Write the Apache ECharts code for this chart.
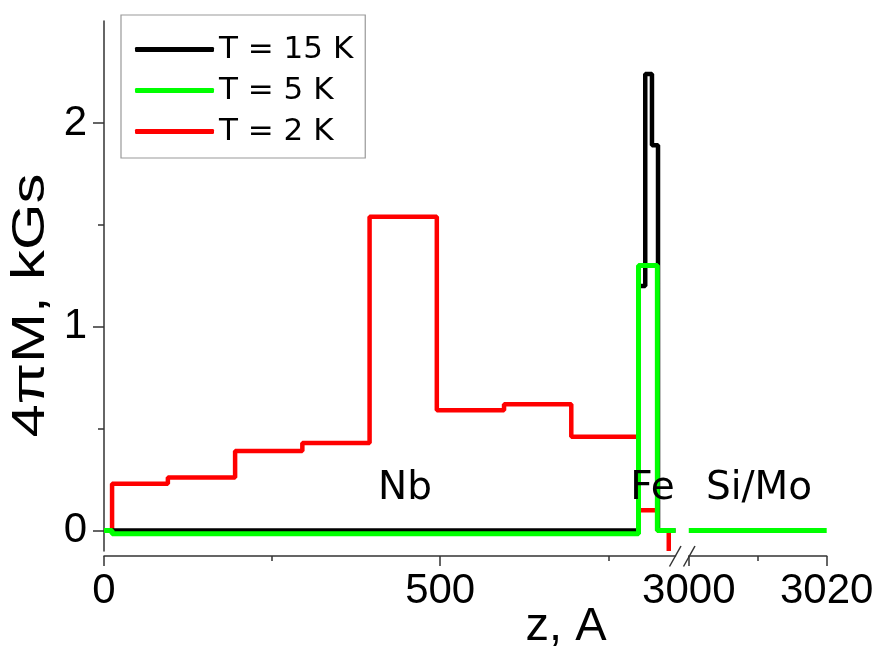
<!DOCTYPE html>
<html>
<head>
<meta charset="utf-8">
<script src="https://cdn.jsdelivr.net/npm/echarts@6/dist/echarts.min.js"></script>
<style>html,body{margin:0;padding:0;background:#fff;}#chart{width:877px;height:649px;}</style>
</head>
<body>
<div id="chart"></div>
<script>
// ---- data (z in Å, 4πM in kGs), step 'end' corner points ----
const seriesNames = ['T = 15 K', 'T = 5 K', 'T = 2 K'];
const blackX = [0, 795, 805, 815, 824, 850];
const blackY = [0, 1.20, 2.24, 1.89, 0, 0];
const greenX = [0, 12, 795, 823, 850];
const greenY = [0, -0.015, 1.30, 0, 0];
const greenRightX = [3000, 3020];
const greenRightY = [0, 0];
const redX = [0, 12, 95, 195, 295, 395, 495, 595, 695, 795, 823, 840];
const redY = [0, 0.23, 0.26, 0.39, 0.43, 1.54, 0.59, 0.62, 0.46, 0.10, 0, -0.1];
const yMajorTicks = [0, 1, 2];
const yMinorTicks = [0.5, 1.5];
const xLeftMajor = [0, 500];
const xLeftMinor = [250, 750];
const xRightMajor = [3000, 3020];
const xRightMinor = [3010];
const layerLabels = ['Nb', 'Fe', 'Si/Mo'];

const zip = (xs, ys) => xs.map((x, i) => [x, ys[i]]);

const chart = echarts.init(document.getElementById('chart'), null, {renderer: 'canvas'});
const axisColor = '#333';
const tickFont = {fontFamily: 'Liberation Sans', fontSize: 42, color: '#000'};
const gridTop = 21, gridBottom = 98;
const plain = v => String(Math.round(v));

function xAxisDef(grid, min, max, ticks, len, labels) {
  return {
    type: 'value', gridIndex: grid, min: min, max: max, position: 'bottom', offset: 5,
    axisLine: {show: labels, onZero: false, lineStyle: {color: axisColor, width: 1.5}},
    axisTick: {show: true, customValues: ticks, length: len, inside: false, lineStyle: {color: axisColor, width: 1.5}},
    axisLabel: labels ? Object.assign({show: true, customValues: ticks, margin: 14, formatter: plain}, tickFont) : {show: false},
    splitLine: {show: false}
  };
}
function yAxisDef(grid, ticks, len, labels, show) {
  return {
    type: 'value', gridIndex: grid, min: -0.1, max: 2.5, position: 'left', show: show,
    axisLine: {show: labels, onZero: false, lineStyle: {color: axisColor, width: 1.5}},
    axisTick: {show: true, customValues: ticks, length: len, lineStyle: {color: axisColor, width: 1.5}},
    axisLabel: labels ? Object.assign({show: true, customValues: ticks, margin: 17, formatter: plain}, tickFont) : {show: false},
    splitLine: {show: false}
  };
}

const option = {
  animation: false,
  backgroundColor: '#fff',
  grid: [
    {left: 104, right: 201.5, top: gridTop, bottom: gridBottom},
    {left: 688.7, right: 50.3, top: gridTop, bottom: gridBottom}
  ],
  xAxis: [
    xAxisDef(0, 0, 850, xLeftMajor, 10, true),
    xAxisDef(0, 0, 850, xLeftMinor, 5, false),
    xAxisDef(1, 2999.99, 3020, xRightMajor, 10, true),
    xAxisDef(1, 2999.99, 3020, xRightMinor, 5, false)
  ],
  yAxis: [
    yAxisDef(0, yMajorTicks, 11, true, true),
    yAxisDef(0, yMinorTicks, 6, false, true),
    yAxisDef(1, yMajorTicks, 0, false, false)
  ],
  legend: {
    orient: 'vertical', left: 121, top: 15,
    padding: [19, 12, 11, 14], itemGap: 10,
    itemWidth: 79, itemHeight: 5, icon: 'roundRect',
    borderColor: '#999', borderWidth: 1.2, backgroundColor: '#fff',
    textStyle: {fontFamily: 'DejaVu Sans', fontSize: 31, color: '#000'},
    data: seriesNames
  },
  series: [
    {name: seriesNames[2], type: 'line', step: 'end', xAxisIndex: 0, yAxisIndex: 0, data: zip(redX, redY),
     symbol: 'none', z: 2, lineStyle: {color: '#ff0000', width: 4.5}, itemStyle: {color: '#ff0000'}},
    {name: seriesNames[0], type: 'line', step: 'end', xAxisIndex: 0, yAxisIndex: 0, data: zip(blackX, blackY),
     symbol: 'none', z: 3, lineStyle: {color: '#000', width: 4.5}, itemStyle: {color: '#000'}},
    {name: seriesNames[1], type: 'line', step: 'end', xAxisIndex: 0, yAxisIndex: 0, data: zip(greenX, greenY),
     symbol: 'none', z: 4, lineStyle: {color: '#00ff00', width: 5}, itemStyle: {color: '#00ff00'}},
    {name: seriesNames[1], type: 'line', step: 'end', xAxisIndex: 2, yAxisIndex: 2, data: zip(greenRightX, greenRightY),
     symbol: 'none', z: 4, lineStyle: {color: '#00ff00', width: 5}, itemStyle: {color: '#00ff00'}}
  ],
  graphic: [
    {type: 'text', x: 31.5, y: 305.5, rotation: Math.PI / 2, scaleX: 1.3,
     style: {text: '4\u03c0M, kGs', font: '46px "Liberation Sans"', fill: '#000',
             align: 'center', verticalAlign: 'middle', textAlign: 'center', textVerticalAlign: 'middle'}},
    {type: 'text', x: 566, y: 627.5,
     style: {text: 'z, A', font: '47px "Liberation Sans"', fill: '#000',
             align: 'center', verticalAlign: 'middle', textAlign: 'center', textVerticalAlign: 'middle'}},
    {type: 'text', x: 405, y: 489,
     style: {text: layerLabels[0], font: '39px "DejaVu Sans"', fill: '#000',
             align: 'center', verticalAlign: 'middle', textAlign: 'center', textVerticalAlign: 'middle'}},
    {type: 'text', x: 652.5, y: 489, z: 10,
     style: {text: layerLabels[1], font: '39px "DejaVu Sans"', fill: '#000',
             align: 'center', verticalAlign: 'middle', textAlign: 'center', textVerticalAlign: 'middle'}},
    {type: 'text', x: 759, y: 489,
     style: {text: layerLabels[2], font: '39px "DejaVu Sans"', fill: '#000',
             align: 'center', verticalAlign: 'middle', textAlign: 'center', textVerticalAlign: 'middle'}},
    {type: 'line', shape: {x1: 669.5, y1: 566.5, x2: 681, y2: 546}, style: {stroke: axisColor, lineWidth: 1.5}},
    {type: 'line', shape: {x1: 683.5, y1: 566.5, x2: 695, y2: 546}, style: {stroke: axisColor, lineWidth: 1.5}}
  ]
};
chart.setOption(option);
</script>
</body>
</html>
